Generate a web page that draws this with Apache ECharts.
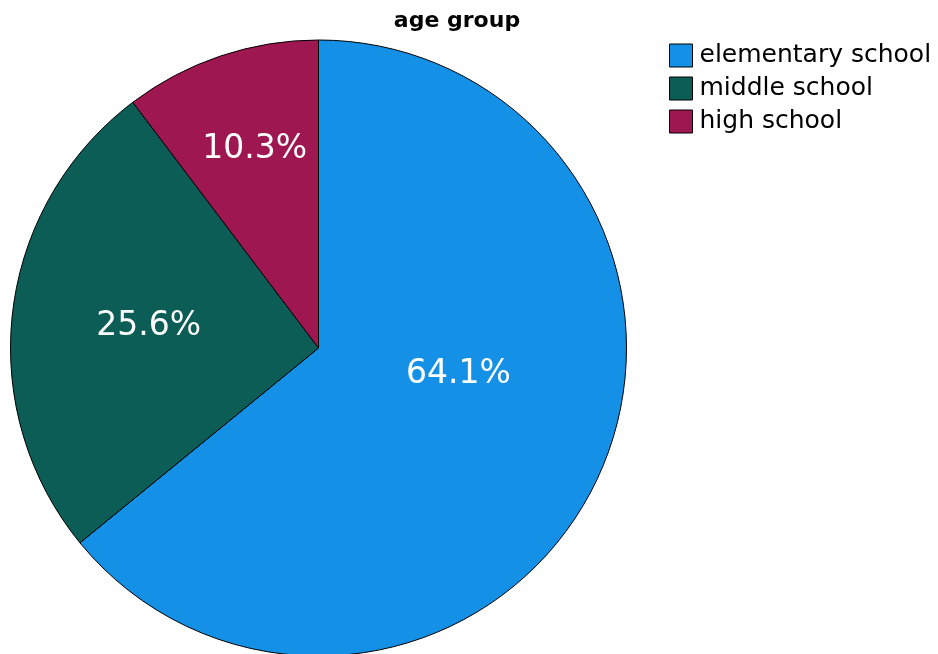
<!DOCTYPE html>
<html>
<head>
<meta charset="utf-8">
<script src="https://cdn.jsdelivr.net/npm/echarts@6/dist/echarts.min.js"></script>
<style>html,body{margin:0;padding:0;background:#fff}#c{width:938px;height:654px}</style>
</head>
<body>
<div id="c"></div>
<script>
const categories = ['elementary school', 'middle school', 'high school'];
const percentages = [64.1, 25.6, 10.3];
const colors = ['#1490e6', '#0b5d56', '#9f1750'];
const labelOffsets = [[-2, -41], [-14, -3], [-14, -50]];

const chart = echarts.init(document.getElementById('c'), null, {renderer: 'canvas'});
chart.setOption({
  animation: false,
  title: {
    text: 'age group', left: 452, top: 5, textAlign: 'center',
    textStyle: {fontFamily: 'DejaVu Sans', fontWeight: 'bold', fontSize: 22, color: '#000'}
  },
  legend: {
    orient: 'vertical', left: 664, top: 38, itemWidth: 23, itemHeight: 23, itemGap: 8,
    icon: 'rect',
    itemStyle: {borderColor: '#000', borderWidth: 1},
    textStyle: {fontFamily: 'DejaVu Sans', fontSize: 25, color: '#000', padding: [0, 0, 0, 2]},
    data: categories
  },
  series: [{
    type: 'pie',
    center: [318.5, 348],
    radius: 308,
    startAngle: 90,
    clockwise: true,
    itemStyle: {borderColor: '#000', borderWidth: 1},
    label: {
      show: true, position: 'inside',
      formatter: p => p.value.toFixed(1) + '%',
      fontFamily: 'DejaVu Sans', fontSize: 33, color: '#fff'
    },
    labelLine: {show: false},
    emphasis: {disabled: true},
    data: categories.map((n, i) => ({
      name: n, value: percentages[i],
      itemStyle: {color: colors[i]},
      label: {offset: labelOffsets[i]}
    }))
  }]
});
</script>
</body>
</html>
